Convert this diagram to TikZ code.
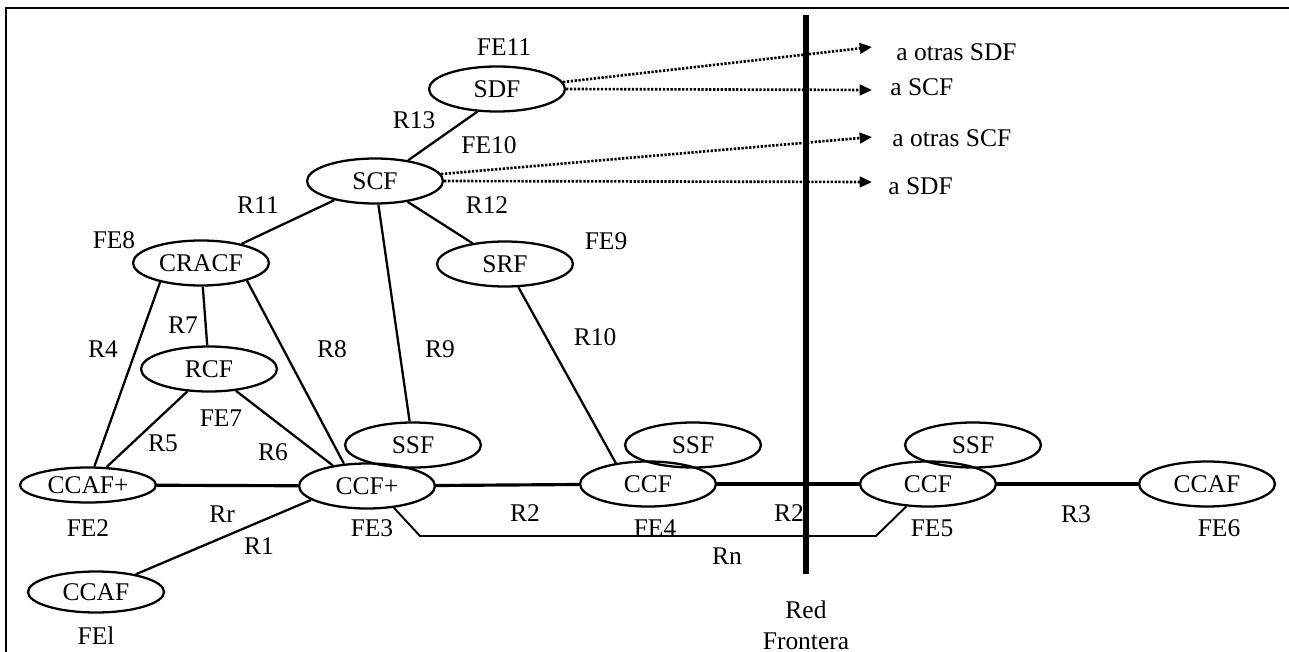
\documentclass[tikz,border=0pt]{standalone}
\usepackage{fontspec}
\setmainfont{Liberation Serif}
\usetikzlibrary{shapes.geometric,arrows.meta}

\begin{document}
\begin{tikzpicture}[x=0.02cm,y=-0.02cm,
    font=\fontsize{14.5}{17.6}\selectfont,
    fe/.style={draw,ellipse,line width=1.3pt,minimum width=2.72cm,minimum height=0.9cm,inner sep=0pt},
    lnk/.style={line width=1.3pt},
    bus/.style={line width=1.8pt},
    ext/.style={line width=1.5pt,dash pattern=on 1.3pt off 0.9pt,-{Triangle[length=7pt,width=6pt]}},
    txt/.style={inner sep=0pt}]
        \useasboundingbox (0,0) rectangle (1289,652);

        % Frame
        \draw[line width=1.4pt] (6,652) -- (6,8) -- (1289,8);

        % Functional entities
        \node[fe] (sdf) at (497,89) {SDF};
        \node[fe] (scf) at (375,181) {SCF};
        \node[fe] (cracf) at (201,263) {CRACF};
        \node[fe] (srf) at (505,264) {SRF};
        \node[fe] (rcf) at (209,369) {RCF};
        \node[fe] (ssfa) at (413,445) {SSF};
        \node[fe] (ssfb) at (693,445) {SSF};
        \node[fe] (ssfc) at (973,445) {SSF};
        \node[fe,minimum height=0.7cm] (ccafp) at (88,485) {CCAF+};
        \node[fe] (ccfp) at (367,486) {CCF+};
        \node[fe] (ccfa) at (648,484) {CCF};
        \node[fe] (ccfb) at (928,484) {CCF};
        \node[fe] (ccafb) at (1207,484) {CCAF};
        \node[fe,minimum height=0.82cm] (ccafa) at (96,592) {CCAF};

        % Reference points
        \draw[lnk] (sdf.229) -- (scf.32);
        \draw[lnk] (scf) -- (cracf);
        \draw[lnk] (scf) -- (ssfa);
        \draw[lnk] (scf) -- (srf);
        \draw[lnk] (cracf.205) -- (ccafp.71);
        \draw[lnk] (cracf) -- (rcf);
        \draw[lnk] (cracf.339) -- (ccfp.136);
        \draw[lnk] (rcf.226) -- (ccafp.44);
        \draw[lnk] (rcf.321) -- (ccfp.149);
        \draw[lnk] (ccfp.194) -- (ccafa.24);
        \draw[lnk] (srf.300) -- (ccfa.147);
        \draw[bus] (ccafp) -- (ccfp);
        \draw[bus] (ccfp) -- (ccfa);
        \draw[bus] (ccfa) -- (ccfb);
        \draw[bus] (ccfb) -- (ccafb);
        \draw[line width=1.1pt] (ccfp.321) -- (420,536) -- (876,536) -- (ccfb.226);

        % Border line
        \draw[line width=3.4pt] (806,15) -- (806,574);
        \node[txt,align=center] (border) at (806,625) {Red\\Frontera};

        % Other networks
        \coordinate (outa) at (872,47);
        \coordinate (outb) at (872,90);
        \coordinate (outc) at (872,137);
        \coordinate (outd) at (872,182);
        \draw[ext] (sdf.6) -- (outa);
        \draw[ext] (sdf.east) -- (outb);
        \draw[ext] (scf.6) -- (outc);
        \draw[ext] (scf.east) -- (outd);
        \node[txt,anchor=west] (totsdf) at (896,52) {a otras SDF};
        \node[txt,anchor=west] (toscf) at (890,87) {a SCF};
        \node[txt,anchor=west] (totscf) at (892,138) {a otras SCF};
        \node[txt,anchor=west] (tosdf) at (888,186) {a SDF};

        % FE labels
        \node[txt] (fe1) at (96,636) {FEl};
        \node[txt] (fe2) at (88,528) {FE2};
        \node[txt] (fe3) at (372,528) {FE3};
        \node[txt] (fe4) at (655,528) {FE4};
        \node[txt] (fe5) at (932,528) {FE5};
        \node[txt] (fe6) at (1219,528) {FE6};
        \node[txt] (fe7) at (221,418) {FE7};
        \node[txt] (fe8) at (114,240) {FE8};
        \node[txt] (fe9) at (606,241) {FE9};
        \node[txt] (fe10) at (489,145) {FE10};
        \node[txt] (fe11) at (504,47) {FE11};

        % R labels
        \node[txt] (r1) at (259,546) {R1};
        \node[txt] (r2a) at (525,513) {R2};
        \node[txt] (r2b) at (789,513) {R2};
        \node[txt] (r3) at (1076,514) {R3};
        \node[txt] (r4) at (103,349) {R4};
        \node[txt] (r5) at (163,443) {R5};
        \node[txt] (r6) at (273,452) {R6};
        \node[txt] (r7) at (183,325) {R7};
        \node[txt] (r8) at (332,349) {R8};
        \node[txt] (r9) at (440,349) {R9};
        \node[txt] (r10) at (595,337) {R10};
        \node[txt] (r11) at (258,205) {R11};
        \node[txt] (r12) at (487,205) {R12};
        \node[txt] (r13) at (414,120) {R13};
        \node[txt] (rr) at (222,514) {Rr};
        \node[txt] (rn) at (727,556) {Rn};

      \end{tikzpicture}
\end{document}
